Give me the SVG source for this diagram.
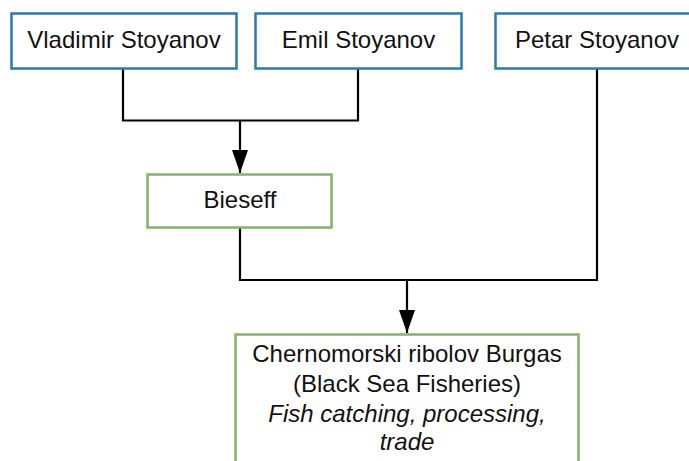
<svg xmlns="http://www.w3.org/2000/svg" width="689" height="461" viewBox="0 0 689 461">
  <style>
    .person { fill: #ffffff; stroke: #2a7aab; stroke-width: 2.5; }
    .org { fill: #ffffff; stroke: #82b366; stroke-width: 2.5; }
    .label { font-family: "Liberation Sans", Arial, sans-serif; font-size: 24px; fill: #111111; text-anchor: middle; }
    .it { font-style: italic; }
    .wire { fill: none; stroke: #000000; stroke-width: 2.2; }
  </style>
  <defs>
    <marker id="arrow" markerUnits="userSpaceOnUse" markerWidth="23" markerHeight="16" refX="23" refY="8" viewBox="0 0 23 16" orient="auto">
      <path d="M0,0 L23,8 L0,16 Z" fill="#000000"/>
    </marker>
  </defs>
  <rect width="689" height="461" fill="#ffffff"/>

  <g id="connectors">
    <path class="wire" d="M123,68 V120.5 H358 V68"/>
    <path class="wire" d="M240,120.5 V173" marker-end="url(#arrow)"/>
    <path class="wire" d="M240,228 V280 H597 V68"/>
    <path class="wire" d="M407,280 V333" marker-end="url(#arrow)"/>
  </g>

  <g id="vladimir">
    <rect class="person" x="11.5" y="13.5" width="225" height="55"/>
    <text class="label" x="124" y="48">Vladimir Stoyanov</text>
  </g>
  <g id="emil">
    <rect class="person" x="255.5" y="13.5" width="206" height="55"/>
    <text class="label" x="358.5" y="48">Emil Stoyanov</text>
  </g>
  <g id="petar">
    <rect class="person" x="495.5" y="13.5" width="204" height="55"/>
    <text class="label" x="597" y="48">Petar Stoyanov</text>
  </g>
  <g id="bieseff">
    <rect class="org" x="147.5" y="174.5" width="184" height="53"/>
    <text class="label" x="240" y="208">Bieseff</text>
  </g>
  <g id="chernomorski">
    <rect class="org" x="235.5" y="334.5" width="343" height="140"/>
    <text class="label" x="407" y="362">Chernomorski ribolov Burgas</text>
    <text class="label" x="407" y="392">(Black Sea Fisheries)</text>
    <text class="label it" x="407" y="422">Fish catching, processing,</text>
    <text class="label it" x="407" y="450">trade</text>
  </g>
</svg>
